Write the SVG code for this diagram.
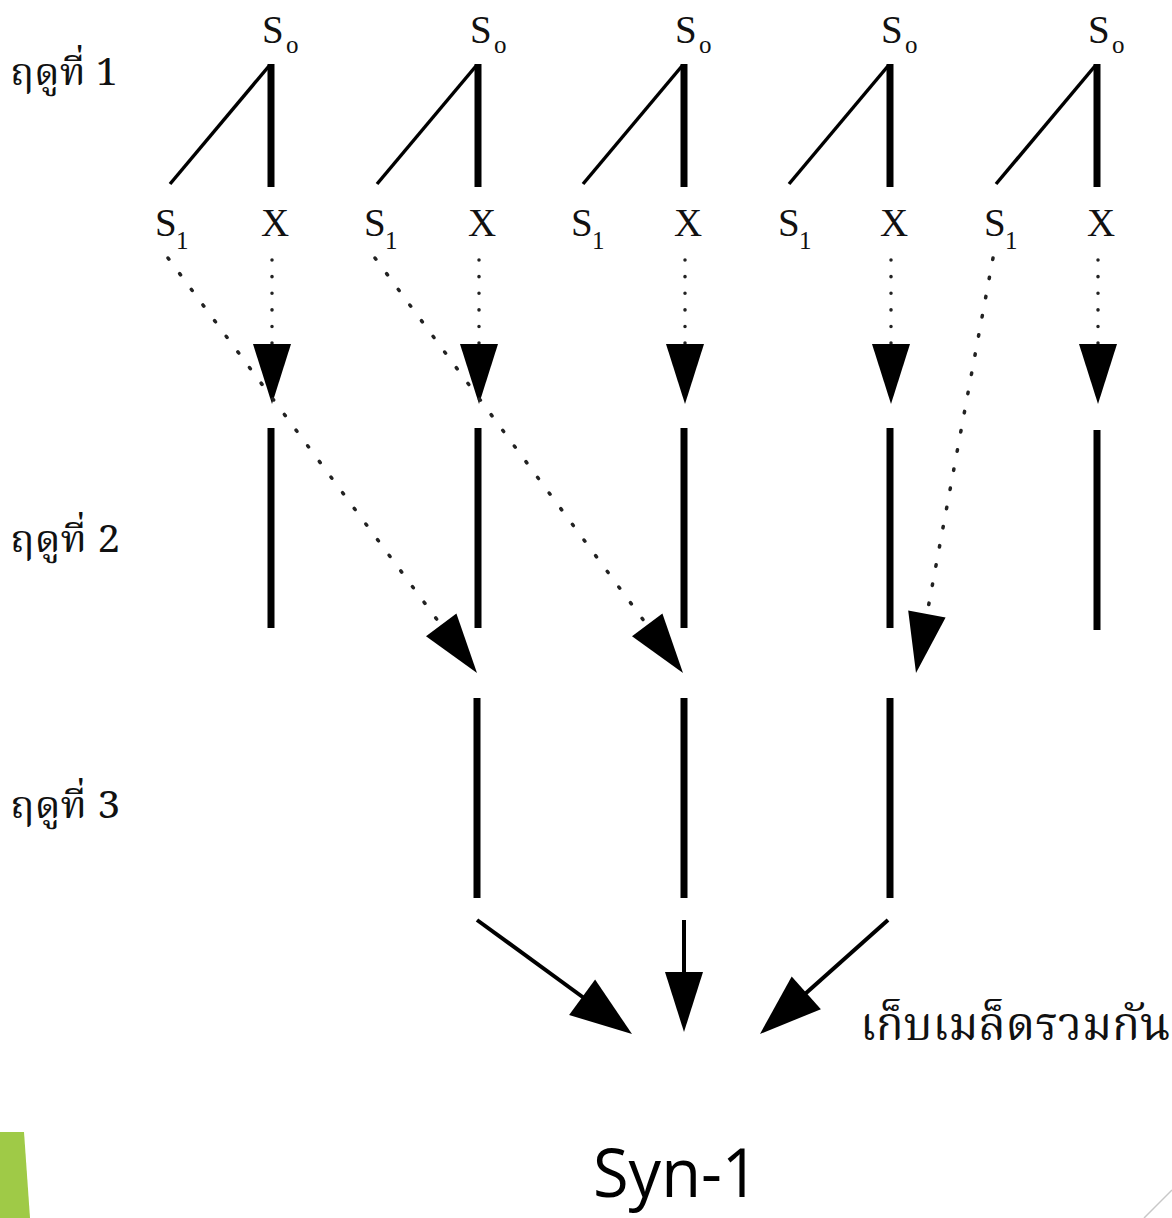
<svg xmlns="http://www.w3.org/2000/svg" width="1172" height="1218" viewBox="0 0 1172 1218">
<style>
.lbl{font-family:"Liberation Serif","Times New Roman",serif;fill:#111}
.big{font-size:39px}
.sub{font-size:25px}
.thai{font-family:"Noto Serif Thai","Norasi","Noto Sans Thai Looped","Noto Sans Thai","Liberation Serif",serif;fill:#111}
.bar{stroke:#000;stroke-width:7;fill:none}
.diag{stroke:#000;stroke-width:3.5;fill:none}
.dotv{stroke:#222;stroke-width:3.5;stroke-linecap:round;stroke-dasharray:0.1 16.5;fill:none}
.dotd{stroke:#222;stroke-width:3.5;stroke-linecap:round;stroke-dasharray:1.5 18;fill:none}
.solid{stroke:#000;stroke-width:4;fill:none}
.head{fill:#000}
</style>
<rect width="1172" height="1218" fill="#fff"/>
<g id="season-labels">
<text class="thai" x="10" y="85" font-size="38" textLength="108" lengthAdjust="spacingAndGlyphs">ฤดูที่ 1</text>
<text class="thai" x="10" y="552" font-size="38" textLength="110" lengthAdjust="spacingAndGlyphs">ฤดูที่ 2</text>
<text class="thai" x="10" y="818" font-size="38" textLength="110" lengthAdjust="spacingAndGlyphs">ฤดูที่ 3</text>
</g>
<g id="col1">
<text class="lbl big" x="262" y="43">S</text><text class="lbl sub" x="286" y="53">o</text>
<line class="bar" x1="271" y1="64" x2="271" y2="187"/>
<line class="diag" x1="170" y1="184" x2="269" y2="66"/>
<text class="lbl big" x="155" y="236">S</text><text class="lbl sub" x="176" y="249">1</text>
<text class="lbl big" x="275" y="236" text-anchor="middle">X</text>
</g>
<g id="col2">
<text class="lbl big" x="470" y="43">S</text><text class="lbl sub" x="494" y="53">o</text>
<line class="bar" x1="478" y1="64" x2="478" y2="187"/>
<line class="diag" x1="377" y1="184" x2="476" y2="66"/>
<text class="lbl big" x="364" y="236">S</text><text class="lbl sub" x="385" y="249">1</text>
<text class="lbl big" x="482" y="236" text-anchor="middle">X</text>
</g>
<g id="col3">
<text class="lbl big" x="675" y="43">S</text><text class="lbl sub" x="699" y="53">o</text>
<line class="bar" x1="684" y1="64" x2="684" y2="187"/>
<line class="diag" x1="583" y1="184" x2="682" y2="66"/>
<text class="lbl big" x="571" y="236">S</text><text class="lbl sub" x="592" y="249">1</text>
<text class="lbl big" x="688" y="236" text-anchor="middle">X</text>
</g>
<g id="col4">
<text class="lbl big" x="881" y="43">S</text><text class="lbl sub" x="905" y="53">o</text>
<line class="bar" x1="890" y1="64" x2="890" y2="187"/>
<line class="diag" x1="789" y1="184" x2="888" y2="66"/>
<text class="lbl big" x="778" y="236">S</text><text class="lbl sub" x="799" y="249">1</text>
<text class="lbl big" x="894" y="236" text-anchor="middle">X</text>
</g>
<g id="col5">
<text class="lbl big" x="1088" y="43">S</text><text class="lbl sub" x="1112" y="53">o</text>
<line class="bar" x1="1097" y1="64" x2="1097" y2="187"/>
<line class="diag" x1="996" y1="184" x2="1095" y2="66"/>
<text class="lbl big" x="984" y="236">S</text><text class="lbl sub" x="1005" y="249">1</text>
<text class="lbl big" x="1101" y="236" text-anchor="middle">X</text>
</g>
<g id="season2">
<line class="bar" x1="271" y1="428" x2="271" y2="628"/>
<line class="bar" x1="478" y1="428" x2="478" y2="628"/>
<line class="bar" x1="684" y1="428" x2="684" y2="628"/>
<line class="bar" x1="890" y1="428" x2="890" y2="628"/>
<line class="bar" x1="1097" y1="430" x2="1097" y2="630"/>
</g>
<g id="season3">
<line class="bar" x1="477" y1="698" x2="477" y2="898"/>
<line class="bar" x1="684" y1="698" x2="684" y2="898"/>
<line class="bar" x1="890" y1="698" x2="890" y2="898"/>
</g>
<g id="connectors">
<line class="dotv" x1="272" y1="260" x2="272" y2="344"/>
<polygon class="head" points="253,344 291,344 272,404"/>
<line class="dotv" x1="479" y1="260" x2="479" y2="344"/>
<polygon class="head" points="460,344 498,344 479,404"/>
<line class="dotv" x1="685" y1="260" x2="685" y2="344"/>
<polygon class="head" points="666,344 704,344 685,404"/>
<line class="dotv" x1="891" y1="260" x2="891" y2="344"/>
<polygon class="head" points="872,344 910,344 891,404"/>
<line class="dotv" x1="1098" y1="260" x2="1098" y2="344"/>
<polygon class="head" points="1079,344 1117,344 1098,404"/>
<line class="dotd" x1="168" y1="258" x2="441" y2="625"/>
<polygon class="head" points="456.4,613.6 426,636.2 477,673"/>
<line class="dotd" x1="375" y1="258" x2="647" y2="625"/>
<polygon class="head" points="662.4,613.6 632,636.2 683,673"/>
<line class="dotd" x1="993" y1="258" x2="927" y2="614"/>
<polygon class="head" points="945.6,617.5 908.2,610.5 916,673"/>
<line class="solid" x1="477" y1="920" x2="584" y2="998"/>
<polygon class="head" points="595.1,979.6 569.1,1015 632,1034"/>
<line class="solid" x1="684" y1="920" x2="684" y2="975" stroke-width="3"/>
<polygon class="head" points="665,972 703,972 684,1032"/>
<line class="solid" x1="888" y1="920" x2="805" y2="994"/>
<polygon class="head" points="820.9,1009.2 791.7,976.4 760,1034"/>
</g>
<g id="merge-label">
<text class="thai" x="860" y="1040" font-size="46">เก็บเมล็ดรวมกัน</text>
</g>
<g id="result">
<text x="593" y="1197" font-family="'Open Sans','Noto Sans',sans-serif" font-size="68" fill="#000" textLength="166" lengthAdjust="spacingAndGlyphs">Syn-1</text>
</g>
<g id="decor">
<polygon points="0,1132 24,1132 30,1218 0,1218" fill="#9fca47"/>
<line x1="1172" y1="1190" x2="1144" y2="1218" stroke="#c8c8c8" stroke-width="1.5"/>
</g>
</svg>
